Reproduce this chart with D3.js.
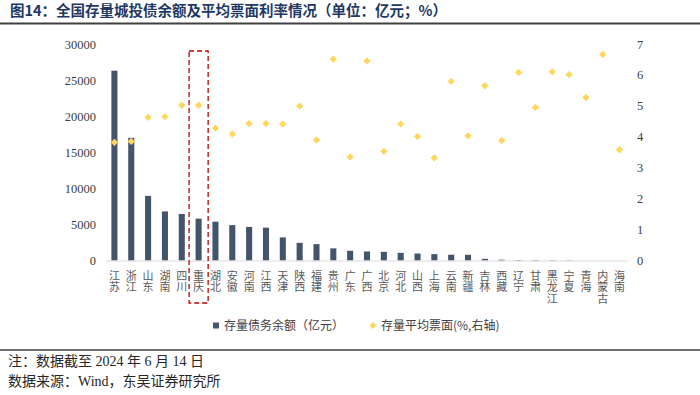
<!DOCTYPE html>
<html>
<head>
<meta charset="utf-8">
<script src="https://cdn.jsdelivr.net/npm/d3@7"></script>
<style>
  body { margin: 0; background: #fff; }
  svg { display: block; }
</style>
</head>
<body>
<div id="chart"></div>
<script>
// provinces, in the order shown
const provinces = ["江苏", "浙江", "山东", "湖南", "四川", "重庆", "湖北", "安徽", "河南", "江西",
    "天津", "陕西", "福建", "贵州", "广东", "广西", "北京", "河北", "山西", "上海",
    "云南", "新疆", "吉林", "西藏", "辽宁", "甘肃", "黑龙江", "宁夏", "青海", "内蒙古", "海南"];

// 存量债务余额（亿元）
const balance = [26300, 17000, 8950, 6800, 6450, 5800, 5380, 4900, 4650, 4550,
    3200, 2450, 2270, 1680, 1350, 1250, 1200, 1060, 970, 880,
    800, 790, 230, 110, 70, 60, 50, 40, 0, 0, 0];

// 存量平均票面(%)
const coupon = [3.82, 3.85, 4.63, 4.65, 5.02, 5.02, 4.28, 4.09, 4.43, 4.43,
    4.41, 4.99, 3.90, 6.51, 3.35, 6.45, 3.53, 4.41, 4.01, 3.32,
    5.79, 4.03, 5.65, 3.88, 6.08, 4.95, 6.10, 6.01, 5.27, 6.66, 3.58];

const leftTicks = [0, 5000, 10000, 15000, 20000, 25000, 30000];
const rightTicks = [0, 1, 2, 3, 4, 5, 6, 7];

const W = 700, H = 395;
const barColor = "#44546A", dotColor = "#FFD75E";
const serif = "'Liberation Serif', 'Times New Roman', serif";
const cjk = "'Noto Sans CJK SC', sans-serif";

const svg = d3.select("#chart").append("svg")
    .attr("width", W)
    .attr("height", H);

// title + rule
svg.append("text")
    .attr("x", 10).attr("y", 16)
    .attr("font-family", cjk).attr("font-weight", "bold")
    .attr("font-size", 14.5).attr("fill", "#1F3864")
    .text("图14：全国存量城投债余额及平均票面利率情况（单位：亿元；%）");
svg.append("line")
    .attr("x1", 0).attr("x2", W).attr("y1", 23.5).attr("y2", 23.5)
    .attr("stroke", "#3F3F3F").attr("stroke-width", 2);

// scales
const x = d3.scaleBand()
    .domain(provinces)
    .range([106, 628])
    .paddingInner(0.64)
    .paddingOuter(0.32);

const y = d3.scaleLinear().domain([0, 30000]).range([260.5, 44]);
const y2 = d3.scaleLinear().domain([0, 7]).range([260.5, 44]);

// left axis
const gl = svg.append("g")
    .attr("transform", "translate(96,0)")
    .call(d3.axisLeft(y).tickValues(leftTicks).tickFormat(d3.format("d")).tickSize(0).tickPadding(0));
gl.select(".domain").remove();
gl.selectAll("text")
    .attr("font-family", serif).attr("font-size", 12.5).attr("fill", "#404040");

// right axis
const gr = svg.append("g")
    .attr("transform", "translate(637,0)")
    .call(d3.axisRight(y2).tickValues(rightTicks).tickFormat(d3.format("d")).tickSize(0).tickPadding(0));
gr.select(".domain").remove();
gr.selectAll("text")
    .attr("font-family", serif).attr("font-size", 12.5).attr("fill", "#404040");

// bars
svg.append("g")
    .selectAll("rect")
    .data(provinces.map((p, i) => ({ p: p, v: balance[i] })))
    .join("rect")
    .attr("x", d => x(d.p))
    .attr("y", d => y(d.v))
    .attr("width", x.bandwidth())
    .attr("height", d => y(0) - y(d.v))
    .attr("fill", barColor);

// x axis line
svg.append("line")
    .attr("x1", x.range()[0]).attr("x2", x.range()[1])
    .attr("y1", y(0) + 0.5).attr("y2", y(0) + 0.5)
    .attr("stroke", "#D9D9D9").attr("stroke-width", 1);

// diamonds (right axis)
const diamond = d3.symbol().type(d3.symbolDiamond2).size(34);
svg.append("g")
    .selectAll("path")
    .data(provinces.map((p, i) => ({ p: p, v: coupon[i] })))
    .join("path")
    .attr("d", diamond)
    .attr("transform", d => `translate(${x(d.p) + x.bandwidth() / 2},${y2(d.v)})`)
    .attr("fill", dotColor);

// vertical category labels (one text each, stacked upright)
svg.append("g")
    .selectAll("text")
    .data(provinces)
    .join("text")
    .attr("x", d => x(d) + x.bandwidth() / 2)
    .attr("y", 270)
    .style("writing-mode", "vertical-rl")
    .style("text-orientation", "upright")
    .style("letter-spacing", "0.5px")
    .attr("font-family", cjk).attr("font-size", 11).attr("fill", "#595959")
    .text(d => d);

// red dashed highlight around 重庆
svg.append("rect")
    .attr("x", x("重庆") - 6.5)
    .attr("y", 51)
    .attr("width", x.bandwidth() + 13)
    .attr("height", 252)
    .attr("fill", "none")
    .attr("stroke", "#C00000").attr("stroke-width", 1.3)
    .attr("stroke-dasharray", "5,3");

// legend
const lg = svg.append("g").attr("font-family", cjk).attr("font-size", 12).attr("fill", "#404040");
lg.append("rect").attr("x", 213).attr("y", 322.5).attr("width", 6).attr("height", 6).attr("fill", barColor);
lg.append("text").attr("x", 224).attr("y", 330).text("存量债务余额（亿元）");
lg.append("path").attr("d", d3.symbol().type(d3.symbolDiamond2).size(30))
    .attr("transform", "translate(373,325.5)").attr("fill", dotColor);
lg.append("text").attr("x", 381).attr("y", 330).text("存量平均票面(%,右轴)");

// bottom rule + notes
svg.append("line")
    .attr("x1", 0).attr("x2", W).attr("y1", 350).attr("y2", 350)
    .attr("stroke", "#3F3F3F").attr("stroke-width", 1.5);

const notes = ["注：数据截至 2024 年 6 月 14 日", "数据来源：Wind，东吴证券研究所"];
svg.append("g")
    .selectAll("text")
    .data(notes)
    .join("text")
    .attr("x", 8)
    .attr("y", (d, i) => 366 + i * 20)
    .attr("font-family", "'Liberation Serif', 'Noto Sans CJK SC', serif")
    .attr("font-size", 14).attr("fill", "#262626")
    .text(d => d);
</script>
</body>
</html>
